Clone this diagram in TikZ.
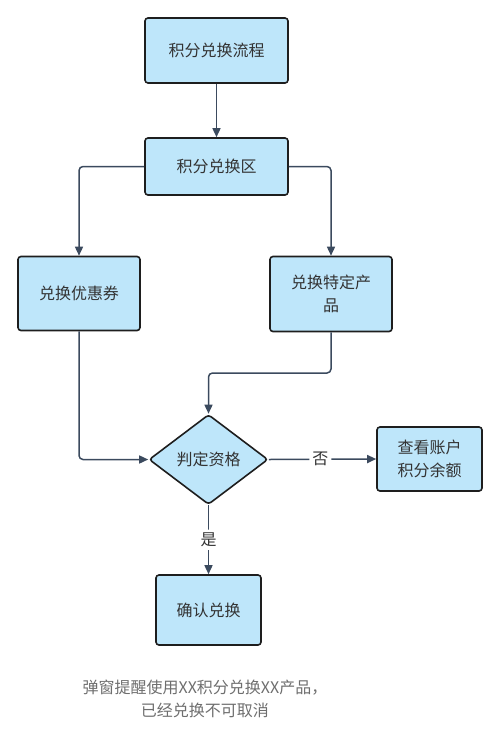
\documentclass[tikz,border=0pt]{standalone}
\usepackage{fontspec}
\setmainfont{Noto Sans CJK SC}
\usetikzlibrary{shapes.geometric,arrows.meta}
\definecolor{boxfill}{HTML}{BEE6FA}
\definecolor{boxline}{HTML}{1E1E1E}
\definecolor{arrowc}{HTML}{3B4A5E}
\definecolor{txt}{HTML}{333333}
\definecolor{note}{HTML}{6E6E6E}
\tikzset{
  box/.style={draw=boxline, line width=1.6pt, fill=boxfill, rounded corners=3pt, text=txt, font=\fontsize{16}{23}\selectfont, align=center, inner sep=0pt},
  dec/.style={draw=boxline, line width=1.6pt, fill=boxfill, diamond, text=txt, font=\fontsize{16}{23}\selectfont, inner sep=0pt, rounded corners=3pt},
  conn/.style={draw=arrowc, line width=1.5pt, rounded corners=4pt, -{Triangle[length=9pt,width=8pt]}},
  lbl/.style={fill=white, text=txt, font=\fontsize{16}{20}\selectfont, inner sep=3pt}
}
\begin{document}
\begin{tikzpicture}[x=1pt,y=-1pt]
\useasboundingbox (0,0) rectangle (500,748);
\node[box, minimum width=143pt, minimum height=65pt] (a) at (216.5,50.5) {积分兑换流程};
\node[box, minimum width=143pt, minimum height=57pt] (b) at (216.5,166.5) {积分兑换区};
\node[box, minimum width=122pt, minimum height=74pt] (c) at (79,293.5) {兑换优惠券};
\node[box, minimum width=122pt, minimum height=75pt] (d) at (331,294) {兑换特定产\\品};
\node[dec, minimum width=119pt, minimum height=90pt, aspect=1.3] (e) at (208.5,459.5) {判定资格};
\node[box, minimum width=105pt, minimum height=64pt] (f) at (429.5,459) {查看账户\\积分余额};
\node[box, minimum width=105pt, minimum height=70pt] (g) at (208.5,610) {确认兑换};
\node[text=note, font=\fontsize{16}{23}\selectfont, align=center, inner sep=0pt] (n) at (205,699) {弹窗提醒使用XX积分兑换XX产品，\\已经兑换不可取消};
\draw[conn] (a.south) -- (b.north);
\draw[conn] (b.west) -| (c.north);
\draw[conn] (b.east) -| (d.north);
\draw[conn] (c.south) |- (e.west);
\coordinate (m) at (331,373);
\draw[conn] (d.south) -- (m) -| (e.north);
\draw[conn] (e.east) -- node[lbl, pos=0.48] {否} (f.west);
\draw[conn] (e.south) -- node[lbl, pos=0.5] {是} (g.north);
\end{tikzpicture}
\end{document}
